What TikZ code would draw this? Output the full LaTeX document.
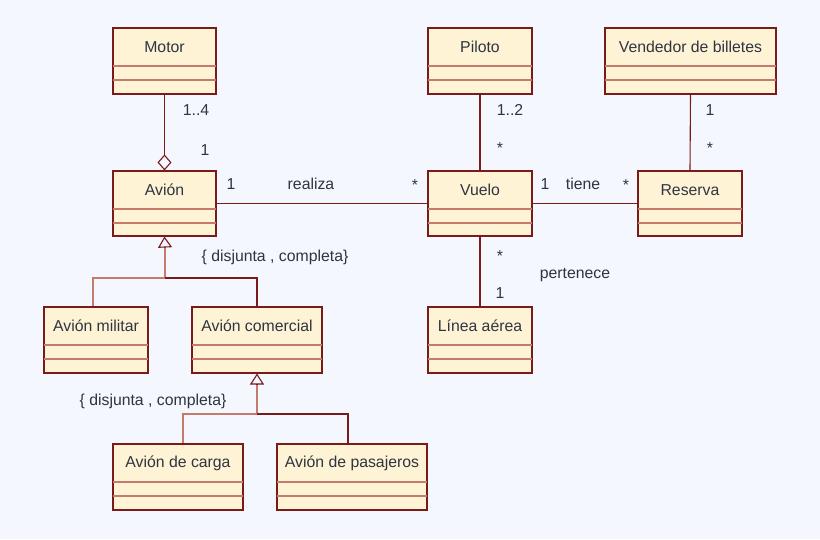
\documentclass[tikz,border=0pt]{standalone}
\usepackage{fontspec}
\setmainfont{Liberation Sans}
\usetikzlibrary{arrows.meta,fit,calc}
\definecolor{bg}{HTML}{F4F7FD}
\definecolor{boxfill}{HTML}{FFF3D6}
\definecolor{boxline}{HTML}{7A1A1A}
\definecolor{compline}{HTML}{C47B6B}
\definecolor{txt}{HTML}{2E3440}
\tikzset{
  clsbox/.style={draw=boxline, fill=boxfill, line width=1.1pt, inner sep=0pt},
  clstitle/.style={text=txt, font=\fontsize{15.8}{18}\selectfont, inner sep=0pt},
  comp/.style={draw=compline, line width=2pt},
  assoc/.style={draw=boxline, line width=1.1pt},
  genlight/.style={draw=compline, line width=2pt},
  lbl/.style={text=txt, font=\fontsize{15.8}{18}\selectfont, inner sep=0pt},
  gentip/.style={-{Triangle[open, length=11pt, width=14pt, line width=1.1pt]}, draw=boxline, line width=1.1pt},
  aggtip/.style={-{Diamond[open, length=16pt, width=14pt, line width=1.1pt]}, draw=boxline, line width=1.1pt},
}
\newcommand\umlcls[6]{%
  \node[clsbox, fit={(#2,#3) (#4,#5)}] (#1) {};
  \node[clstitle] (#1-t) at ($(#1.north)+(0,19.5)$) {#6};
  \draw[comp] ($(#1.north west)+(0.8,39)$) -- ($(#1.north east)+(-0.8,39)$);
  \draw[comp] ($(#1.north west)+(0.8,53)$) -- ($(#1.north east)+(-0.8,53)$);
}
\begin{document}
\begin{tikzpicture}[x=1pt,y=-1pt]
\fill[bg] (0,0) rectangle (820,539);
\useasboundingbox (0,0) rectangle (820,539);

\umlcls{motor}{113}{28}{216}{94}{Motor}
\umlcls{avion}{113}{171}{216}{236}{Avión}
\umlcls{piloto}{428}{28}{532}{94}{Piloto}
\umlcls{vendedor}{605}{28}{776}{94}{Vendedor de billetes}
\umlcls{vuelo}{428}{171}{532}{236}{Vuelo}
\umlcls{reserva}{638}{171}{742}{236}{Reserva}
\umlcls{militar}{44}{307}{148}{373}{Avión militar}
\umlcls{comercial}{192}{307}{322}{373}{Avión comercial}
\umlcls{linea}{428}{307}{532}{373}{Línea aérea}
\umlcls{carga}{113}{444}{243}{510}{Avión de carga}
\umlcls{pasajeros}{277}{444}{427}{510}{Avión de pasajeros}

% associations
\draw[aggtip] (motor.south) -- (avion.north);
\draw[assoc] (avion.east) -- (vuelo.west);
\draw[assoc] (vuelo.east) -- (reserva.west);
\draw[assoc] (piloto.south) -- (vuelo.north);
\draw[assoc] (vendedor.south) -- (reserva.north);
\draw[assoc] (vuelo.south) -- (linea.north);

% generalization 1
\coordinate (j1) at (165,278);
\coordinate (b1) at (165,247);
\draw[genlight] (j1) -- (b1);
\draw[gentip] (b1) -- (avion.south);
\draw[genlight] ($(militar.north)+(-3,0)$) |- (j1);
\draw[assoc] (j1) -| (comercial.north);

% generalization 2
\coordinate (j2) at (257,414);
\coordinate (b2) at (257,384);
\draw[genlight] (j2) -- (b2);
\draw[gentip] (b2) -- (comercial.south);
\draw[genlight] ($(carga.north)+(5,0)$) |- (j2);
\draw[assoc] (j2) -| ($(pasajeros.north)+(-4,0)$);

% labels
\node[lbl] (l1) at (196,110) {1..4};
\node[lbl] (l2) at (205,150) {1};
\node[lbl] (l3) at (231,184) {1};
\node[lbl] (l4) at (311,184) {realiza};
\node[lbl] (l5) at (415,185) {*};
\node[lbl] (l6) at (545,184) {1};
\node[lbl] (l7) at (583,184) {tiene};
\node[lbl] (l8) at (626,185) {*};
\node[lbl] (l9) at (510,110) {1..2};
\node[lbl] (l10) at (500,148) {*};
\node[lbl] (l11) at (710,110) {1};
\node[lbl] (l12) at (710,148) {*};
\node[lbl] (l13) at (500,256) {*};
\node[lbl] (l14) at (500,293) {1};
\node[lbl] (l15) at (575,275) {pertenece};
\node[lbl] (l16) at (275,257) {\{ disjunta , completa\}};
\node[lbl] (l17) at (153,401) {\{ disjunta , completa\}};
\end{tikzpicture}
\end{document}
